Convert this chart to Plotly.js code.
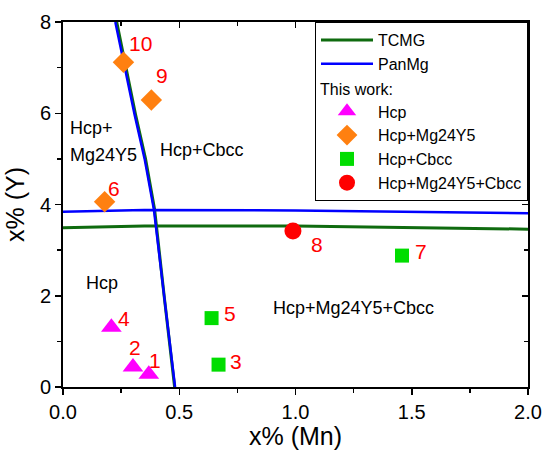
<!DOCTYPE html>
<html>
<head>
<meta charset="utf-8">
<script src="https://cdn.plot.ly/plotly-3.0.1.min.js"></script>
<style>html,body{margin:0;padding:0;background:#fff;}#chart{width:544px;height:450px;}</style>
</head>
<body>
<div id="chart"></div>
<script>
// Phase boundary lines
const tcmgSteepX = [0.231, 0.312, 0.355, 0.394, 0.437, 0.480];
const tcmgSteepY = [8, 5.97, 5.0, 3.89, 1.91, 0];
const tcmgFlatX  = [0, 0.35, 1.0, 1.5, 2.0];
const tcmgFlatY  = [3.49, 3.53, 3.53, 3.49, 3.46];
const panSteepX  = [0.225, 0.308, 0.351, 0.391, 0.437, 0.482];
const panSteepY  = [8, 5.97, 5.0, 3.89, 1.91, 0];
const panFlatX   = [0, 0.35, 1.0, 1.5, 2.0];
const panFlatY   = [3.84, 3.88, 3.87, 3.84, 3.81];

// Experimental points (This work)
const hcpX = [0.369, 0.301, 0.208];
const hcpY = [0.28, 0.44, 1.31];
const hcpLabels = ['1', '2', '4'];
const mgX = [0.26, 0.38, 0.179];
const mgY = [7.12, 6.29, 4.06];
const mgLabels = ['10', '9', '6'];
const cbccX = [0.669, 0.639, 1.458];
const cbccY = [0.49, 1.51, 2.88];
const cbccLabels = ['3', '5', '7'];
const triX = [0.989];
const triY = [3.42];
const triLabels = ['8'];

const xTickVals = [0, 0.5, 1.0, 1.5, 2.0];
const xTickText = ['0.0', '0.5', '1.0', '1.5', '2.0'];
const yTickVals = [0, 2, 4, 6, 8];

// label pixel offsets (layout only)
const labelShift = {'1':[6,14],'2':[2,19],'4':[12.5,9],'10':[17.5,18.7],'9':[11,25],'6':[9,13],
                    '3':[17,3],'5':[18,5],'7':[19.5,4],'8':[24,-14]};

const FONT = 'Liberation Sans, Arial, sans-serif';
const join = (a, b) => a.concat([null], b);

const traces = [
  {x: join(tcmgSteepX, tcmgFlatX), y: join(tcmgSteepY, tcmgFlatY), mode: 'lines', name: 'TCMG',
   line: {color: '#0f6b0f', width: 3}, connectgaps: false},
  {x: join(panSteepX, panFlatX), y: join(panSteepY, panFlatY), mode: 'lines', name: 'PanMg',
   line: {color: '#0000ff', width: 2.5}, connectgaps: false},
  {x: [null], y: [null], mode: 'markers', name: ' ', marker: {size: 1, opacity: 0}, hoverinfo: 'skip'},
  {x: hcpX, y: hcpY, mode: 'markers', name: 'Hcp', marker: {symbol: 'triangle-up', size: 18, color: '#ff00ff'}},
  {x: mgX, y: mgY, mode: 'markers', name: 'Hcp+Mg24Y5', marker: {symbol: 'diamond', size: 16.5, color: '#ff8010'}},
  {x: cbccX, y: cbccY, mode: 'markers', name: 'Hcp+Cbcc', marker: {symbol: 'square', size: 14, color: '#00dd00'}},
  {x: triX, y: triY, mode: 'markers', name: 'Hcp+Mg24Y5+Cbcc', marker: {symbol: 'circle', size: 17, color: '#ff0000'}},
  {x: [null], y: [null], xaxis: 'x2', yaxis: 'y2', mode: 'markers', showlegend: false, hoverinfo: 'skip'}
];

const annotations = [];
function addLabels(xs, ys, labels) {
  labels.forEach((t, i) => {
    const s = labelShift[t];
    annotations.push({x: xs[i], y: ys[i], text: t, showarrow: false, xshift: s[0], yshift: s[1],
      font: {family: FONT, size: 21, color: '#ff0000'}});
  });
}
addLabels(hcpX, hcpY, hcpLabels);
addLabels(mgX, mgY, mgLabels);
addLabels(cbccX, cbccY, cbccLabels);
addLabels(triX, triY, triLabels);

const regionFont = {family: FONT, size: 18, color: '#000'};
[
  {x: 0.02, y: 5.67, text: 'Hcp+', xanchor: 'left'},
  {x: 0.02, y: 5.08, text: 'Mg24Y5', xanchor: 'left'},
  {x: 0.596, y: 5.2, text: 'Hcp+Cbcc', xanchor: 'center'},
  {x: 0.166, y: 2.28, text: 'Hcp', xanchor: 'center'},
  {x: 1.25, y: 1.73, text: 'Hcp+Mg24Y5+Cbcc', xanchor: 'center'}
].forEach(a => annotations.push(Object.assign({showarrow: false, font: regionFont}, a)));

annotations.push({xref: 'paper', yref: 'paper', x: 0.548, y: 0.815, xanchor: 'left', yanchor: 'middle',
  text: 'This work:', showarrow: false, font: {family: FONT, size: 16, color: '#000'}});

const axisCommon = {showgrid: false, zeroline: false, showline: true, linecolor: '#000', linewidth: 2,
  ticks: 'outside', ticklen: 6, tickwidth: 1.5, tickcolor: '#000'};

const layout = {
  width: 544, height: 450,
  margin: {l: 63, r: 16, t: 22, b: 63},
  paper_bgcolor: '#fff', plot_bgcolor: '#fff',
  font: {family: FONT, color: '#000'},
  showlegend: true,
  legend: {x: 1, y: 1, xanchor: 'right', yanchor: 'top', bgcolor: '#fff', bordercolor: '#000', borderwidth: 1,
    font: {family: FONT, size: 16, color: '#000'}, itemwidth: 52, tracegroupgap: 0},
  xaxis: Object.assign({}, axisCommon, {range: [0, 2], tickvals: xTickVals, ticktext: xTickText,
    tickfont: {family: FONT, size: 20}, title: {text: 'x% (Mn)', font: {family: FONT, size: 25}, standoff: 6},
    minor: {dtick: 0.25, ticks: 'outside', ticklen: 4, tickwidth: 1.5, tickcolor: '#000'}}),
  yaxis: Object.assign({}, axisCommon, {range: [0, 8], tickvals: yTickVals,
    tickfont: {family: FONT, size: 20}, title: {text: 'x% (Y)', font: {family: FONT, size: 25}, standoff: 8},
    minor: {dtick: 1, ticks: 'outside', ticklen: 4, tickwidth: 1.5, tickcolor: '#000'}}),
  xaxis2: {overlaying: 'x', side: 'top', anchor: 'y2', range: [0, 2], showgrid: false, zeroline: false,
    showline: true, linecolor: '#000', linewidth: 2, ticks: 'inside', ticklen: 6, tickwidth: 1.5, tickcolor: '#000',
    tickvals: xTickVals, showticklabels: false,
    minor: {dtick: 0.25, ticks: 'inside', ticklen: 4, tickwidth: 1.5, tickcolor: '#000'}},
  yaxis2: {overlaying: 'y', side: 'right', anchor: 'x2', range: [0, 8], showgrid: false, zeroline: false,
    showline: true, linecolor: '#000', linewidth: 2, ticks: 'inside', ticklen: 6, tickwidth: 1.5, tickcolor: '#000',
    tickvals: yTickVals, showticklabels: false,
    minor: {dtick: 1, ticks: 'inside', ticklen: 4, tickwidth: 1.5, tickcolor: '#000'}},
  annotations: annotations
};

Plotly.newPlot('chart', traces, layout, {displayModeBar: false, staticPlot: true});
</script>
</body>
</html>
